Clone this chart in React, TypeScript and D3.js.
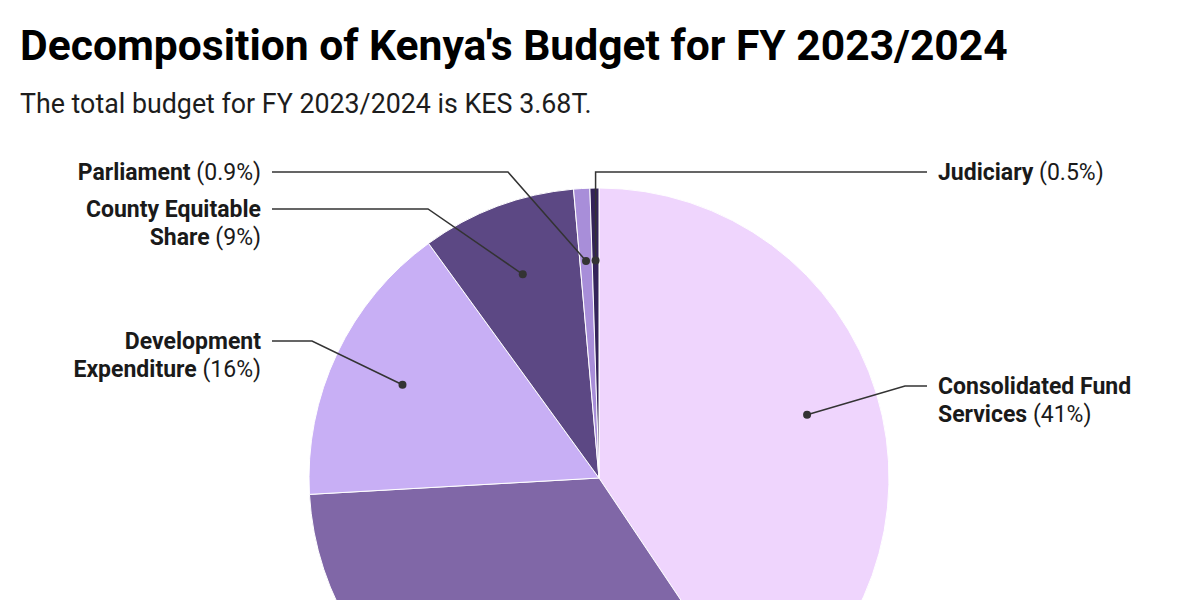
import React from "react";
import * as d3 from "d3";

const categories = [
  "Consolidated Fund Services",
  "Recurrent Expenditure",
  "Development Expenditure",
  "County Equitable Share",
  "Parliament",
  "Judiciary",
];
const shares = [40.6, 33.5, 15.9, 8.6, 0.9, 0.5];
const shareLabels = ["41%", "34%", "16%", "9%", "0.9%", "0.5%"];
const colors = ["#efd5fd", "#8067a7", "#c8aff5", "#5c4884", "#a88ed9", "#342459"];

// label layout: lines of bold text, label y (first line center), side, elbow x
const labelLines: (string[] | null)[] = [
  ["Consolidated Fund", "Services"],
  null,
  ["Development", "Expenditure"],
  ["County Equitable", "Share"],
  ["Parliament"],
  ["Judiciary"],
];
const labelY = [386, 0, 341, 209, 172, 172];
const labelSide = ["right", "", "left", "left", "left", "right"];
const elbowX: (number | null)[] = [905, null, 312, 428, 508, null];

const W = 1200;
const H = 600;
const cx = 599;
const cy = 478;
const R = 290;
const leftTextX = 261;
const leftLineX = 272;
const rightTextX = 938;
const rightLineX = 927;
const lineH = 28;

export default function App() {
  const pie = d3.pie<number>().sort(null).value((d) => d);
  const arcs = pie(shares);
  const arc = d3.arc<d3.PieArcDatum<number>>().innerRadius(0).outerRadius(R);
  const dotArc = d3
    .arc<d3.PieArcDatum<number>>()
    .innerRadius(R * 0.75)
    .outerRadius(R * 0.75);

  return (
    <svg
      width={W}
      height={H}
      style={{ position: "absolute", left: 0, top: 0, background: "#fff" }}
      fontFamily="Roboto, sans-serif"
    >
      <text x={20} y={60} fontSize={42.6} fontWeight={700} fill="#000">
        Decomposition of Kenya's Budget for FY 2023/2024
      </text>
      <text x={20} y={113} fontSize={26.8} fill="#1d1d1d">
        The total budget for FY 2023/2024 is KES 3.68T.
      </text>
      <g transform={`translate(${cx},${cy})`}>
        {arcs.map((a, i) => (
          <path key={i} d={arc(a) || ""} fill={colors[i]} stroke="#fff" strokeWidth={1} />
        ))}
      </g>
      {arcs.map((a, i) => {
        const lines = labelLines[i];
        if (!lines) return null;
        const [dx, dy] = dotArc.centroid(a);
        const px = cx + dx;
        const py = cy + dy;
        const ly = labelY[i];
        const side = labelSide[i];
        const ex = elbowX[i] ?? px;
        const endX = side === "left" ? leftLineX : rightLineX;
        const pts = `${px},${py} ${ex},${ly} ${endX},${ly}`;
        const tx = side === "left" ? leftTextX : rightTextX;
        const anchor = side === "left" ? "end" : "start";
        return (
          <g key={i}>
            <polyline points={pts} fill="none" stroke="#333" strokeWidth={1.5} />
            <circle cx={px} cy={py} r={4} fill="#333" />
            {lines.map((ln, j) => (
              <text
                key={j}
                x={tx}
                y={ly + j * lineH}
                dy="0.35em"
                fontSize={23}
                textAnchor={anchor}
                fill="#1a1a1a"
              >
                <tspan fontWeight={700}>{ln}</tspan>
                {j === lines.length - 1 ? (
                  <tspan fontWeight={400}>{` (${shareLabels[i]})`}</tspan>
                ) : null}
              </text>
            ))}
          </g>
        );
      })}
    </svg>
  );
}
